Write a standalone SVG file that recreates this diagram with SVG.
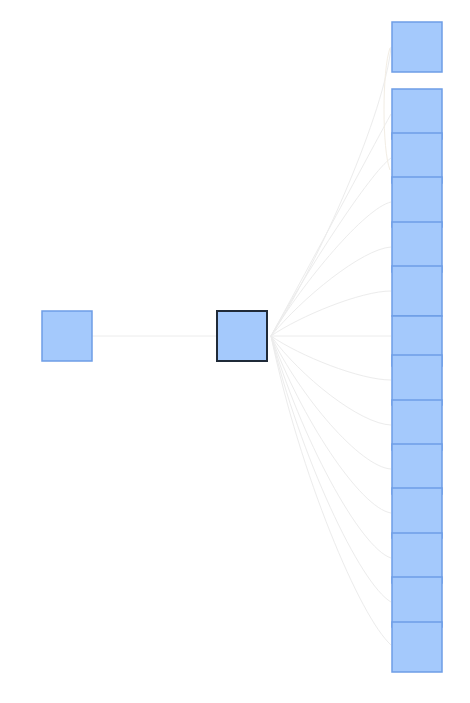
<svg xmlns="http://www.w3.org/2000/svg" width="470" height="703" viewBox="0 0 470 703">
<style>
.n rect{fill:#a4c9fc;stroke:#6e9de6;stroke-width:1.5}
.c path{fill:none;stroke:#ececec;stroke-width:1}
#center rect{stroke:#1f2a38;stroke-width:2}
</style>
<rect width="470" height="703" fill="#ffffff"/>
<g class="c" id="connectors">
<path d="M92,336 L217,336"/>
<path d="M271,336 C320,261 385,111 391,47"/>
<path d="M271,336 C312,261 375,143 391,114"/>
<path d="M271,336 C308,269 370,173 391,158"/>
<path d="M271,336 C304,281 365,208 391,202"/>
<path d="M271,336 C302,298 362,249 391,247"/>
<path d="M271,336 C300,316 361,291 391,291"/>
<path d="M271,336 L391,336"/>
<path d="M271,336 C300,356 360,380 391,380"/>
<path d="M271,336 C300,376 360,424 391,425"/>
<path d="M271,336 C300,396 360,467 391,469"/>
<path d="M271,336 C300,416 360,508 391,513"/>
<path d="M271,336 C300,436 360,548 391,558"/>
<path d="M271,336 C300,456 360,584 391,602"/>
<path d="M271,336 C300,475 360,617 391,645"/>
<path d="M390,48 C382,70 382,150 390,170" style="stroke:#f2ede4"/>
</g>
<g class="n" id="left"><rect x="42" y="311" width="50" height="50"/></g>
<g class="n" id="center"><rect x="217" y="311" width="50" height="50"/></g>
<g class="n" id="top"><rect x="392" y="22" width="50" height="50"/></g>
<g class="n" id="s1"><rect x="392" y="89" width="50" height="50"/></g>
<g class="n" id="s2"><rect x="392" y="133" width="50" height="50"/></g>
<g class="n" id="s3"><rect x="392" y="177" width="50" height="50"/></g>
<g class="n" id="s4"><rect x="392" y="222" width="50" height="50"/></g>
<g class="n" id="s5"><rect x="392" y="266" width="50" height="50"/></g>
<g class="n" id="s6"><rect x="392" y="316" width="50" height="50"/></g>
<g class="n" id="s7"><rect x="392" y="355" width="50" height="50"/></g>
<g class="n" id="s8"><rect x="392" y="400" width="50" height="50"/></g>
<g class="n" id="s9"><rect x="392" y="444" width="50" height="50"/></g>
<g class="n" id="s10"><rect x="392" y="488" width="50" height="50"/></g>
<g class="n" id="s11"><rect x="392" y="533" width="50" height="50"/></g>
<g class="n" id="s12"><rect x="392" y="577" width="50" height="50"/></g>
<g class="n" id="s13"><rect x="392" y="622" width="50" height="50"/></g>
</svg>
